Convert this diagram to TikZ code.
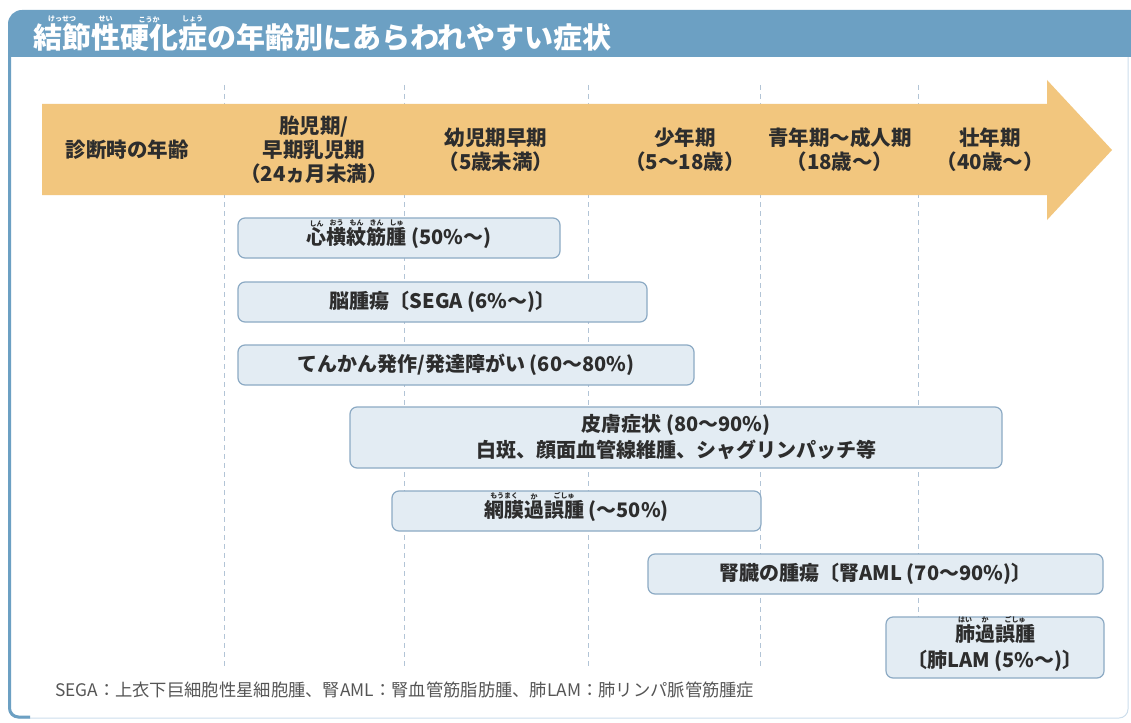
\documentclass[tikz,border=0pt]{standalone}
\usepackage{fontspec}
\setmainfont{Noto Sans CJK JP}
\usetikzlibrary{positioning}

\definecolor{barBlue}{RGB}{108,160,195}
\definecolor{frameBlue}{RGB}{205,222,236}
\definecolor{ageOrange}{RGB}{242,198,126}
\definecolor{boxFill}{RGB}{227,236,243}
\definecolor{boxLine}{RGB}{140,170,196}
\definecolor{gridLine}{RGB}{178,196,214}
\definecolor{textDark}{RGB}{45,45,45}
\definecolor{noteGray}{RGB}{85,85,85}

% small kana set above a word, without changing its height
\newcommand{\furigana}[2]{\leavevmode\setbox0\hbox{#1}\rlap{\raisebox{\dimexpr\ht0+1.5pt\relax}[0pt][0pt]{\makebox[\wd0]{\fontsize{7}{7}\selectfont #2}}}\box0\relax}

\begin{document}
\begin{tikzpicture}[x=1pt, y=-1pt,
        ageLabel/.style={font=\fontsize{20.5}{24}\selectfont\bfseries, text=textDark, align=center, inner sep=0pt},
        symptomBox/.style={draw=boxLine, fill=boxFill, line width=1.2pt, rounded corners=7pt, minimum height=40pt, inner sep=0pt, font=\fontsize{20}{26}\selectfont\bfseries, text=textDark, align=center},
        gridDash/.style={draw=gridLine, line width=0.8pt, dash pattern=on 5pt off 4pt}]
        \useasboundingbox (0,0) rectangle (1131,722);

        %%% Frame
            % White panel with a light border
            \draw[frameBlue, line width=1pt, fill=white, rounded corners=9pt] (9,14) rectangle (1128,718);

            % Blue strip on the left side
            \draw[barBlue, line width=3pt, rounded corners=9pt] (9.5,50) -- (9.5,717) -- (30,717);

            % Title bar, rounded only at the top left
            \fill[barBlue] (8,57) -- (8,24) arc[start angle=180, end angle=270, radius=14] -- (1131,10) -- (1131,57) -- cycle;

            % Title text
            \node[anchor=west, font=\fontsize{29}{29}\selectfont\bfseries, text=white, inner sep=0pt] (title) at (33,37)
                {\furigana{結節}{けっせつ}\furigana{性}{せい}\furigana{硬化}{こうか}\furigana{症}{しょう}の年齢別にあらわれやすい症状};

        %%% Age arrow
            % Dashed lines between the age groups
            \foreach \xpos in {224,404,588,760,918}
                \draw[gridDash] (\xpos,85) -- (\xpos,668);

            % Arrow body and head
            \fill[ageOrange] (42,104) -- (1047,104) -- (1047,80) -- (1112,150) -- (1047,220) -- (1047,195) -- (42,195) -- cycle;

            % Age group labels
            \node[ageLabel] (ageTitle) at (127,150) {診断時の年齢};
            \node[ageLabel] (infant) at (314,150) {胎児期/\\早期乳児期\\（24ヵ月未満）};
            \node[ageLabel] (toddler) at (496,150) {幼児期早期\\（5歳未満）};
            \node[ageLabel] (child) at (685,150) {少年期\\（5〜18歳）};
            \node[ageLabel] (adult) at (840,150) {青年期〜成人期\\（18歳〜）};
            \node[ageLabel] (middleAge) at (990,150) {壮年期\\（40歳〜）};

        %%% Symptoms
            % Heart
            \node[symptomBox, minimum width=322pt] (heartTumor) at (399,238)
                {\furigana{心}{しん}\furigana{横}{おう}\furigana{紋}{もん}\furigana{筋}{きん}\furigana{腫}{しゅ} (50\%〜)};

            % Brain
            \node[symptomBox, minimum width=409pt] (brainTumor) at (442.5,302) {脳腫瘍〔SEGA (6\%〜)〕};

            % Epilepsy
            \node[symptomBox, minimum width=456pt] (epilepsy) at (466,365) {てんかん発作/発達障がい (60〜80\%)};

            % Skin
            \node[symptomBox, minimum width=652pt, minimum height=61pt] (skin) at (676,437.5)
                {皮膚症状 (80〜90\%)\\白斑、顔面血管線維腫、シャグリンパッチ等};

            % Retina
            \node[symptomBox, minimum width=369pt] (retina) at (576.5,511)
                {\furigana{網膜}{もうまく}\furigana{過}{か}\furigana{誤腫}{ごしゅ} (〜50\%)};

            % Kidney
            \node[symptomBox, minimum width=455pt] (kidney) at (875.5,574) {腎臓の腫瘍〔腎AML (70〜90\%)〕};

            % Lung
            \node[symptomBox, minimum width=218pt, minimum height=61pt] (lung) at (995,647.5)
                {\furigana{肺}{はい}\furigana{過}{か}\furigana{誤腫}{ごしゅ}\\〔肺LAM (5\%〜)〕};

        %%% Note
            \node[anchor=west, font=\fontsize{17.3}{17.3}\selectfont, text=noteGray, inner sep=0pt] (note) at (55,690)
                {SEGA：上衣下巨細胞性星細胞腫、腎AML：腎血管筋脂肪腫、肺LAM：肺リンパ脈管筋腫症};
\end{tikzpicture}
\end{document}
